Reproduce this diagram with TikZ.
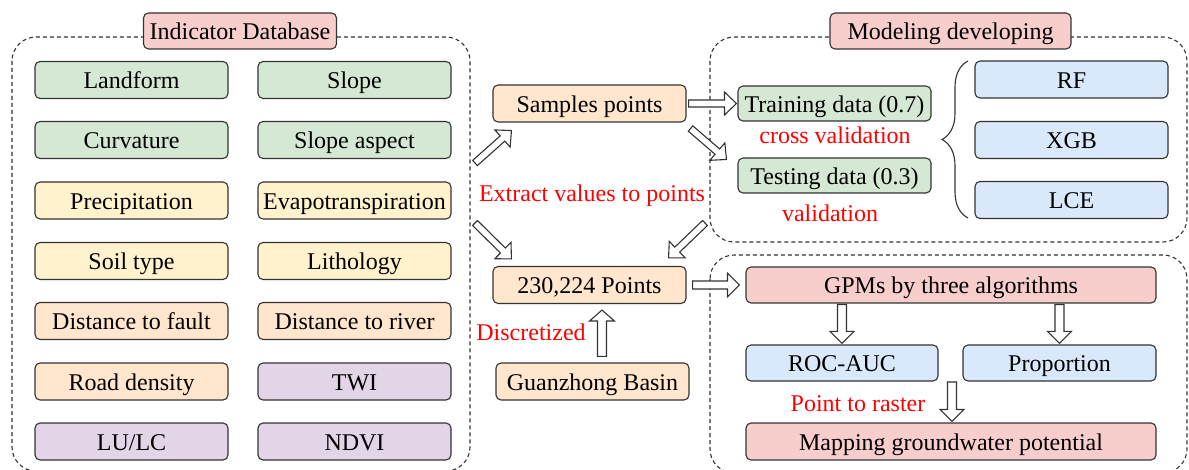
\documentclass[tikz,border=0pt]{standalone}
\usepackage{fontspec}
\setmainfont{Liberation Serif}
\newfontfamily\tnr{Liberation Serif}
\usetikzlibrary{calc,decorations.pathreplacing}
\definecolor{cgreen}{HTML}{D5E8D4}
\definecolor{cyellow}{HTML}{FFF2CC}
\definecolor{corange}{HTML}{FFE6CC}
\definecolor{cpurple}{HTML}{E1D5E7}
\definecolor{cpink}{HTML}{F8CECC}
\definecolor{cblue}{HTML}{DAE8FC}
\definecolor{cline}{HTML}{333333}
\definecolor{cred}{HTML}{FF0000}
\def\barS{3.5pt}\def\barH{11.5pt}\def\barL{12pt}
\tikzset{
  box/.style={draw=cline, line width=1.1pt, rounded corners=5pt, minimum height=37pt,
    minimum width=193pt, inner sep=0pt, text height=21.5pt, text depth=4pt,
    font=\tnr\fontsize{24}{28}\selectfont},
  gbox/.style={box, fill=cgreen},
  ybox/.style={box, fill=cyellow},
  obox/.style={box, fill=corange},
  pbox/.style={box, fill=cpurple},
  kbox/.style={box, fill=cpink},
  bbox/.style={box, fill=cblue},
  redtext/.style={text=cred, inner sep=0pt, text height=21.5pt, text depth=4pt,
    font=\tnr\fontsize{24}{28}\selectfont},
  group/.style={draw=cline, line width=1.1pt, dash pattern=on 4pt off 3pt, rounded corners=24pt},
  asize/.code args={#1/#2/#3}{\def\barS{#1}\def\barH{#2}\def\barL{#3}},
  barrow/.style={draw=cline, fill=white, line width=1.1pt, line join=miter,
    to path={
      ($(\tikztostart)!\barS!90:(\tikztotarget)$)
      -- ($(\tikztotarget)!\barL!(\tikztostart)!\barS!-90:(\tikztostart)$)
      -- ($(\tikztotarget)!\barL!(\tikztostart)!\barH!-90:(\tikztostart)$)
      -- (\tikztotarget)
      -- ($(\tikztotarget)!\barL!(\tikztostart)!\barH!90:(\tikztostart)$)
      -- ($(\tikztotarget)!\barL!(\tikztostart)!\barS!90:(\tikztostart)$)
      -- ($(\tikztostart)!\barS!-90:(\tikztotarget)$)
      -- cycle}},
}
\begin{document}
\begin{tikzpicture}[x=1pt,y=-1pt]
\useasboundingbox (0,0) rectangle (1189,470);
% dashed groups
\draw[group] (12,37) rectangle (470,471);
\draw[group] (710,37) rectangle (1187,242);
\draw[group] (710,255) rectangle (1187,473);
% titles
\node[kbox, minimum width=193pt, minimum height=36pt] (ind) at (240,31) {Indicator Database};
\node[kbox, minimum width=241pt, minimum height=36pt] (mod) at (950.5,31) {Modeling developing};
% indicators
\node[gbox] (landform) at (131.5,80) {Landform};
\node[gbox] (slope) at (354.5,80) {Slope};
\node[gbox] (curv) at (131.5,140) {Curvature};
\node[gbox] (aspect) at (354.5,140) {Slope aspect};
\node[ybox] (prec) at (131.5,200.5) {Precipitation};
\node[ybox] (evap) at (354.5,200.5) {Evapotranspiration};
\node[ybox] (soil) at (131.5,261) {Soil type};
\node[ybox] (lith) at (354.5,261) {Lithology};
\node[obox] (dfault) at (131.5,321) {Distance to fault};
\node[obox] (driver) at (354.5,321) {Distance to river};
\node[obox] (road) at (131.5,381.5) {Road density};
\node[pbox] (twi) at (354.5,381.5) {TWI};
\node[pbox] (lulc) at (131.5,441.5) {LU/LC};
\node[pbox] (ndvi) at (354.5,441.5) {NDVI};
% middle
\node[obox] (sp) at (589.5,103.5) {Samples points};
\node[obox] (pts) at (589.5,285) {230,224 Points};
\node[obox] (gb) at (592.5,381.5) {Guanzhong Basin};
\node[redtext] (extract) at (592,193) {Extract values to points};
\node[redtext] (disc) at (531,332) {Discretized};
% modeling
\node[gbox, minimum height=35pt] (train) at (834.5,103.5) {Training data (0.7)};
\node[gbox, minimum height=35pt] (test) at (834.5,175.5) {Testing data (0.3)};
\node[redtext] (cv) at (835,135) {cross validation};
\node[redtext] (val) at (830,213) {validation};
\node[bbox] (rf) at (1071.5,79.5) {RF};
\node[bbox] (xgb) at (1071.5,140) {XGB};
\node[bbox] (lce) at (1071.5,200) {LCE};
\draw[cline, line width=1.1pt, decorate, decoration={brace, amplitude=26pt}] (968,218) -- (968,61);
% lower right
\node[kbox, minimum width=410pt, minimum height=36pt] (gpm) at (951,285) {GPMs by three algorithms};
\node[bbox, minimum width=192pt, minimum height=36pt] (roc) at (842,363) {ROC-AUC};
\node[bbox, minimum width=193pt, minimum height=36pt] (prop) at (1059.5,363) {Proportion};
\node[kbox, minimum width=410pt, minimum height=37pt] (map) at (951,441.5) {Mapping groundwater potential};
\node[redtext] (p2r) at (858,403) {Point to raster};
% free ends
\coordinate (out1) at (475,163);
\coordinate (out2) at (475,223);
\coordinate (mout) at (705,223);
\coordinate (mid) at (952,382);
% arrows
\draw[barrow] ([xshift=2pt]sp.east) to ([xshift=-1pt]train.west);
\draw[barrow] ($(sp.south east)+(4,6)$) to ($(test.north west)+(-11,2)$);
\draw[barrow] (out1) to ($(sp.south west)+(19,8)$);
\draw[barrow] (out2) to ($(pts.north west)+(19,-7)$);
\draw[barrow] (mout) to ($(pts.north east)+(-18,-8)$);
\draw[barrow, asize={4.5pt/12.5pt/11pt}] ($(gb.north)+(9.5,-6)$) to ($(pts.south)+(12.5,6)$);
\draw[barrow, asize={4pt/12pt/12pt}] ([xshift=6pt]pts.east) to ([xshift=-6pt]gpm.west);
\draw[barrow, asize={4.5pt/12pt/12pt}] ([yshift=-1pt]gpm.south -| roc.north) to ([yshift=1pt]roc.north);
\draw[barrow, asize={4.5pt/12pt/12pt}] ([yshift=-1pt]gpm.south -| prop.north) to ([yshift=1pt]prop.north);
\draw[barrow, asize={4.5pt/12pt/12pt}] (mid) to ([yshift=1pt]mid |- map.north);
\end{tikzpicture}
\end{document}
